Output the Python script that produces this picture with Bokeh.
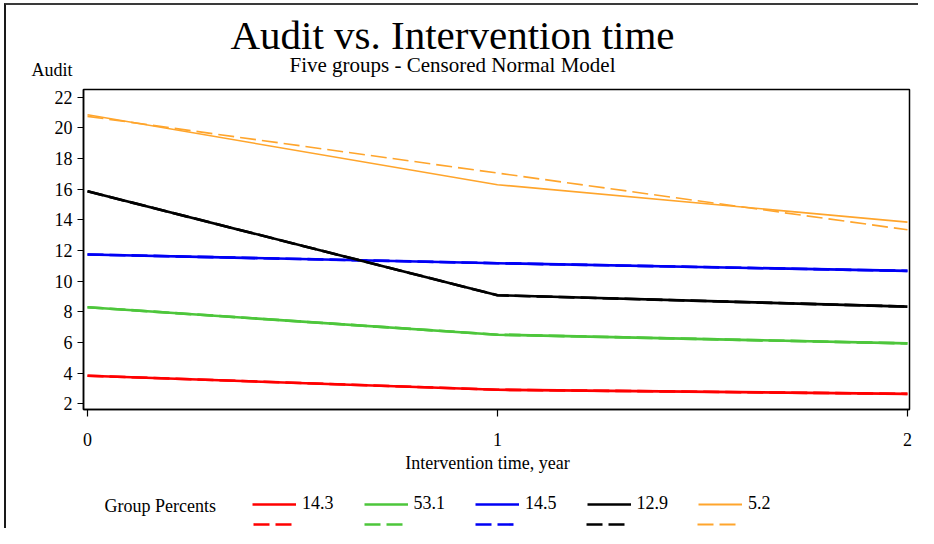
from bokeh.plotting import figure
from bokeh.layouts import column
from bokeh.models import Range1d, FixedTicker, Label, Legend, LegendItem
from bokeh.embed import file_html
from bokeh.resources import INLINE

# ---- data ----
years = [0, 1, 2]
group_percents = ["14.3", "53.1", "14.5", "12.9", "5.2"]
group_colors = ["#FF0000", "#4DC63B", "#0000F5", "#000000", "#FFA52C"]
pred_g1 = [3.83, 2.92, 2.65]
pred_g2 = [8.30, 6.51, 5.94]
pred_g3 = [11.74, 11.17, 10.67]
pred_g4 = [15.86, 9.08, 8.34]
pred_g5 = [20.85, 16.29, 13.85]
# dashed series (groups 1-4 lie under their solid lines in the picture)
obs_g1 = [3.83, 2.92, 2.65]
obs_g2 = [8.30, 6.51, 5.94]
obs_g3 = [11.74, 11.17, 10.67]
obs_g4 = [15.86, 9.08, 8.34]
obs_g5 = [20.75, 17.05, 13.35]
y_ticks = [2, 4, 6, 8, 10, 12, 14, 16, 18, 20, 22]
x_ticks = [0, 1, 2]

preds = [pred_g1, pred_g2, pred_g3, pred_g4, pred_g5]
obss = [obs_g1, obs_g2, obs_g3, obs_g4, obs_g5]
widths = [2.6, 2.6, 2.6, 2.6, 1.6]
legend_widths = [2.6, 2.6, 2.6, 2.6, 2.2]

FONT = "Liberation Serif"
DASH = "16 6"
OX, OY = 6, 5           # page offset produced by the outer margin + border
BL, BR = 83 - OX, 9     # shared left / right borders -> frames at page x 83..909
FW = 826

def lab(fig, text, x, y, size, align="left", baseline="alphabetic"):
    fig.add_layout(Label(x=x, y=y, text=text, text_font=FONT, text_font_size=size,
                         text_color="black", text_align=align, text_baseline=baseline))

# ---------- top: titles ----------
top = figure(frame_width=FW, frame_height=86 - OY, output_backend="svg", toolbar_location=None,
             x_range=Range1d(83, 83 + FW), y_range=Range1d(86, OY),
             x_axis_location=None, y_axis_location="left",
             min_border_left=BL, min_border_right=BR, min_border_top=0, min_border_bottom=0)
top.grid.visible = False
top.outline_line_color = None
ya = top.yaxis[0]
ya.ticker = FixedTicker(ticks=[69])
ya.major_label_overrides = {69: "Audit"}
ya.axis_line_color = None
ya.major_tick_line_color = None
ya.minor_tick_line_color = None
ya.major_tick_out = 6
ya.major_tick_in = 0
ya.major_label_standoff = 5
ya.major_label_text_font = FONT
ya.major_label_text_font_size = "18px"
ya.major_label_text_color = "black"

lab(top, "Audit vs. Intervention time", 452, 34, "41px", "center")
lab(top, "Five groups - Censored Normal Model", 452, 64, "21px", "center")

# ---------- main plot ----------
p = figure(width=BL + FW + BR, height=368, output_backend="svg", toolbar_location=None,
           x_range=Range1d(-0.0098, 2.005), y_range=Range1d(1.63, 22.5),
           min_border_left=BL, min_border_top=3, min_border_right=BR, min_border_bottom=45)
p.xgrid.visible = False
p.ygrid.visible = False
p.outline_line_color = "black"
p.outline_line_width = 1.5

for ax in (p.xaxis[0], p.yaxis[0]):
    ax.major_label_text_font = FONT
    ax.major_label_text_font_size = "18px"
    ax.major_label_text_color = "black"
    ax.axis_line_color = "black"
    ax.axis_line_width = 1.5
    ax.major_tick_line_color = "black"
    ax.major_tick_line_width = 1.2
    ax.major_tick_in = 0
    ax.minor_tick_line_color = None

p.yaxis.ticker = FixedTicker(ticks=y_ticks)
p.yaxis.major_tick_out = 6
p.yaxis.major_label_standoff = 5
p.xaxis.ticker = FixedTicker(ticks=x_ticks)
p.xaxis.major_tick_out = 7
p.xaxis.major_label_standoff = 16

for i in range(5):
    p.line(years, obss[i], line_color=group_colors[i], line_width=widths[i], line_dash=DASH)
for i in range(5):
    p.line(years, preds[i], line_color=group_colors[i], line_width=widths[i])

# ---------- bottom: axis title + legend ----------
bot = figure(frame_width=FW, frame_height=74, output_backend="svg", toolbar_location=None,
             x_range=Range1d(83, 83 + FW), y_range=Range1d(528, 454),
             x_axis_location=None, y_axis_location=None,
             min_border_left=BL, min_border_right=BR, min_border_top=0, min_border_bottom=0)
bot.grid.visible = False
bot.outline_line_color = None

lab(bot, "Intervention time, year", 487, 462, "18px", "center")
lab(bot, "Group Percents", 104, 505, "18px", "left", "middle")

solid_items, dash_items = [], []
for i in range(5):
    rs = bot.line(years, preds[i], line_color=group_colors[i], line_width=legend_widths[i], visible=False)
    rd = bot.line(years, obss[i], line_color=group_colors[i], line_width=legend_widths[i],
                  line_dash=DASH, visible=False)
    solid_items.append(LegendItem(label=group_percents[i], renderers=[rs]))
    dash_items.append(LegendItem(label=" ", renderers=[rd]))

common = dict(orientation="horizontal", padding=0, margin=0, border_line_color=None,
              background_fill_alpha=0, glyph_width=44, glyph_height=20, label_height=20,
              label_standoff=6, label_text_font=FONT, label_text_font_size="18px",
              label_text_color="black")
bot.add_layout(Legend(items=solid_items, location=(169, 14), spacing=30, **common), "center")
bot.add_layout(Legend(items=dash_items, location=(170, -6), spacing=41,
                      label_text_alpha=0, **common), "center")

layout = column(top, p, bot, spacing=0,
                styles={"margin-left": "4px", "margin-top": "3px",
                        "border-left": "2px solid #1a1a1a", "border-top": "2px solid #3a3a3a"})
open("out.html", "w").write(file_html(layout, INLINE))
